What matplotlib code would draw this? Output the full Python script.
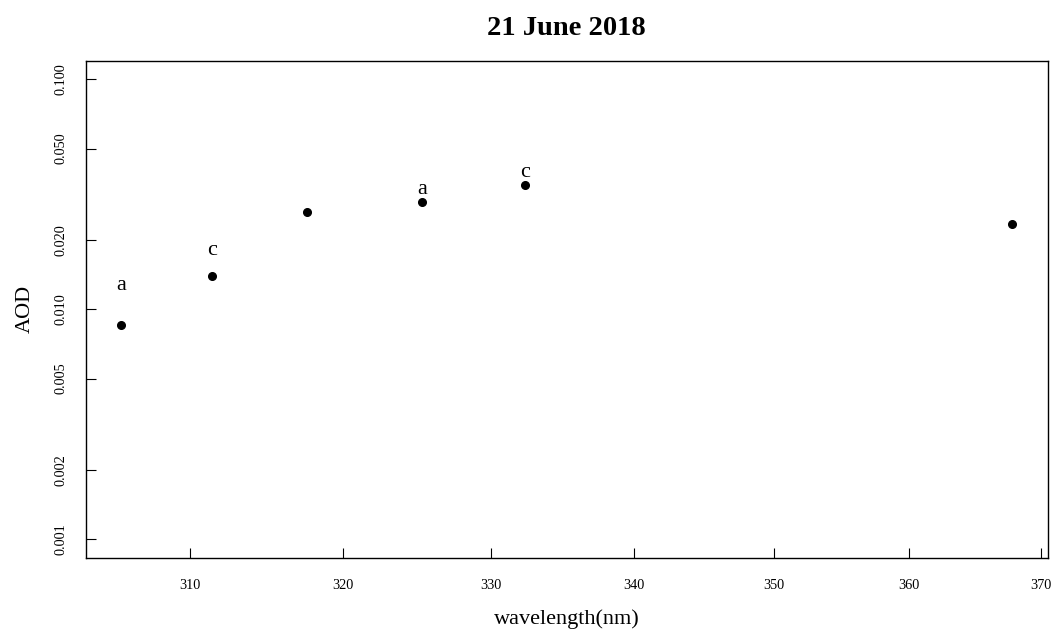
import matplotlib
matplotlib.use("Agg")
import matplotlib.pyplot as plt
from matplotlib.ticker import FixedLocator, FixedFormatter, NullLocator
import math

# Data
wavelength = [305.6, 311.4, 317.6, 325.3, 332.4, 367.8]
aod = [0.00855, 0.01396, 0.02657, 0.02937, 0.03481, 0.02349]

label_x = [305.6, 311.4, 325.3, 332.4]
label_y = [0.01275, 0.01798, 0.0333, 0.0392]
label_text = ["a", "c", "a", "c"]

x_ticks = [310, 320, 330, 340, 350, 360, 370]
y_ticks = [0.001, 0.002, 0.005, 0.010, 0.020, 0.050, 0.100]
y_tick_labels = ["0.001", "0.002", "0.005", "0.010", "0.020", "0.050", "0.100"]

plt.rcParams['font.family'] = ['Liberation Serif', 'DejaVu Serif']

fig = plt.figure(figsize=(10.52, 6.29), dpi=100)
ax = fig.add_axes([85.7 / 1052, 1 - 557.7 / 629, (1047.7 - 85.7) / 1052, (557.7 - 61) / 629])

ax.plot(wavelength, aod, 'o', color='black', markersize=5.5, linestyle='none')
for xx, yy, t in zip(label_x, label_y, label_text):
    ax.text(xx, yy, t, ha='center', va='center', fontsize=16)

ax.set_xscale('log')
ax.set_yscale('log')

lx0, lx1 = math.log10(min(wavelength)), math.log10(max(wavelength))
dx = (lx1 - lx0) * 0.04
ax.set_xlim(10 ** (lx0 - dx), 10 ** (lx1 + dx))
ly0, ly1 = -3, -1
dy = (ly1 - ly0) * 0.04
ax.set_ylim(10 ** (ly0 - dy), 10 ** (ly1 + dy))

ax.xaxis.set_major_locator(FixedLocator(x_ticks))
ax.xaxis.set_major_formatter(FixedFormatter([str(v) for v in x_ticks]))
ax.xaxis.set_minor_locator(NullLocator())
ax.yaxis.set_major_locator(FixedLocator(y_ticks))
ax.yaxis.set_major_formatter(FixedFormatter(y_tick_labels))
ax.yaxis.set_minor_locator(NullLocator())

ax.tick_params(axis='x', direction='in', length=7.2, width=0.8, labelsize=10.3, pad=15.5)
ax.tick_params(axis='y', direction='in', length=7.2, width=0.8, labelsize=10.3, pad=13, labelrotation=90)
for lbl in ax.get_yticklabels():
    lbl.set_va('center')

for s in ax.spines.values():
    s.set_linewidth(1.0)

ax.set_xlabel('wavelength(nm)', fontsize=16, labelpad=12)
ax.set_ylabel('AOD', fontsize=16, labelpad=14)
ax.set_title('21 June 2018', fontsize=20.5, fontweight='bold', pad=19)

fig.savefig('out.png', dpi=100)
